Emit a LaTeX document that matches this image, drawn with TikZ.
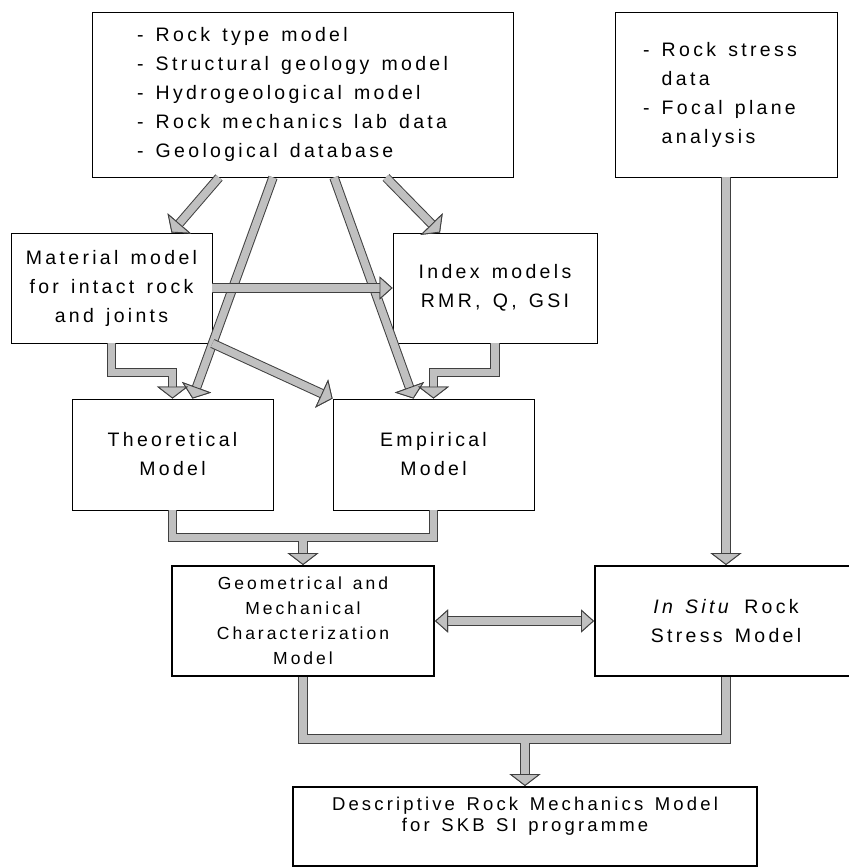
\documentclass[tikz,border=0pt]{standalone}
\usepackage{fontspec}
\setmainfont{Liberation Sans}[LetterSpace=17, WordSpace=1.4]
\usepackage{tikz}
\usetikzlibrary{arrows.meta, positioning, calc}
\definecolor{arrowline}{RGB}{64, 64, 64}
\definecolor{arrowfill}{RGB}{192, 192, 192}
\newcommand{\boxfont}{\fontsize{19.5}{29}\selectfont}
\newcommand{\geomfont}{\fontsize{17.5}{25}\selectfont}
\newcommand{\finalfont}{\fontsize{18.5}{21}\selectfont}
\newcommand{\listfont}{\boxfont\spaceskip=0pt\xspaceskip=0pt\relax}
\tikzset{
  bigtip/.tip={Triangle[length=12pt, width=31pt, line width=0.9pt, color=arrowline, fill=arrowfill]},
  smalltip/.tip={Triangle[length=13pt, width=23pt, line width=0.9pt, color=arrowline, fill=arrowfill]}
}

\begin{document}
\begin{tikzpicture}[x=1pt, y=-1pt,
  box/.style={draw, line width=0.9pt, inner sep=0pt, align=center, font=\boxfont},
  boldbox/.style={box, line width=2pt},
  fat/.style={line width=7.5pt, draw=arrowfill, preaction={draw=arrowline, line width=9.5pt}},
  fatfill/.style={line width=7.5pt, draw=arrowfill}]
\useasboundingbox (0,0) rectangle (849,868);

\node[box, align=left, text width=331pt, inner xsep=45pt, minimum height=165pt] (src) at (302.5,94.5) {\listfont - Rock type model\\- Structural geology model\\- Hydrogeological model\\- Rock mechanics lab data\\- Geological database};
\node[box, align=left, text width=166pt, inner xsep=28pt, minimum height=165pt] (rtop) at (726,94.5) {\listfont - Rock stress\\\phantom{- }data\\- Focal plane\\\phantom{- }analysis};

\node[box, minimum width=201pt, minimum height=110pt] (mat) at (111.5,288) {Material model\\for intact rock\\and joints};
\node[box, minimum width=204pt, minimum height=110pt] (idx) at (495,288) {Index models\\RMR, Q, GSI};
\node[box, minimum width=201pt, minimum height=111pt] (theo) at (172.5,454.5) {Theoretical\\Model};
\node[box, minimum width=201pt, minimum height=111pt] (empi) at (433.5,454.5) {Empirical\\Model};

\node[boldbox, minimum width=262pt, minimum height=110pt, font=\geomfont] (geom) at (303,621) {Geometrical and\\Mechanical\\Characterization\\Model};
\node[boldbox, minimum width=262pt, minimum height=110pt] (situ) at (726,621) {\textit{In Situ} Rock\\Stress Model};
\node[boldbox, minimum width=464pt, minimum height=79pt, font=\finalfont, text depth=24pt] (final) at (525,826.5) {Descriptive Rock Mechanics Model\\for SKB SI programme};

% data into the models
\draw[fat, -bigtip] ($(src.south)+(-83.5,0)$) -- ($(mat.north)+(60,0)$);
\draw[fat, -bigtip] ($(src.south)+(-29.5,0)$) -- ($(theo.north)+(20,0)$);
\draw[fat, -bigtip] ($(src.south)+(31.5,0)$) -- ($(empi.north)+(-20,0)$);
\draw[fat, -bigtip] ($(src.south)+(83.5,0)$) -- ($(idx.north)+(-55,0)$);
\draw[fat, -bigtip] (mat.south east) -- (empi.north west);
\draw[fat, -smalltip] (mat.east) -- (idx.west);
\draw[fat, -bigtip] (mat.south) -- ++(0,29) -| (theo.north);
\draw[fat, -bigtip] (idx.south) -- ++(0,29) -| (empi.north);

% merge into the characterization model
\coordinate (j1) at ($(theo.south)!0.5!(empi.south)+(0,27)$);
\draw[fat] (theo.south) -- ++(0,27) -| (empi.south);
\draw[fat, -bigtip] (j1) -- (geom.north);
\draw[fatfill] (theo.south) -- ++(0,27) -| (empi.south);

\draw[fat, smalltip-smalltip] (geom.east) -- (situ.west);
\draw[fat, -bigtip] (rtop.south) -- (situ.north);

% merge into the descriptive model
\coordinate (j2) at ($(final.north |- geom.south)+(0,62)$);
\draw[fat] (geom.south) -- ++(0,62) -| (situ.south);
\draw[fat, -bigtip] (j2) -- (final.north);
\draw[fatfill] (geom.south) -- ++(0,62) -| (situ.south);
\end{tikzpicture}
\end{document}
